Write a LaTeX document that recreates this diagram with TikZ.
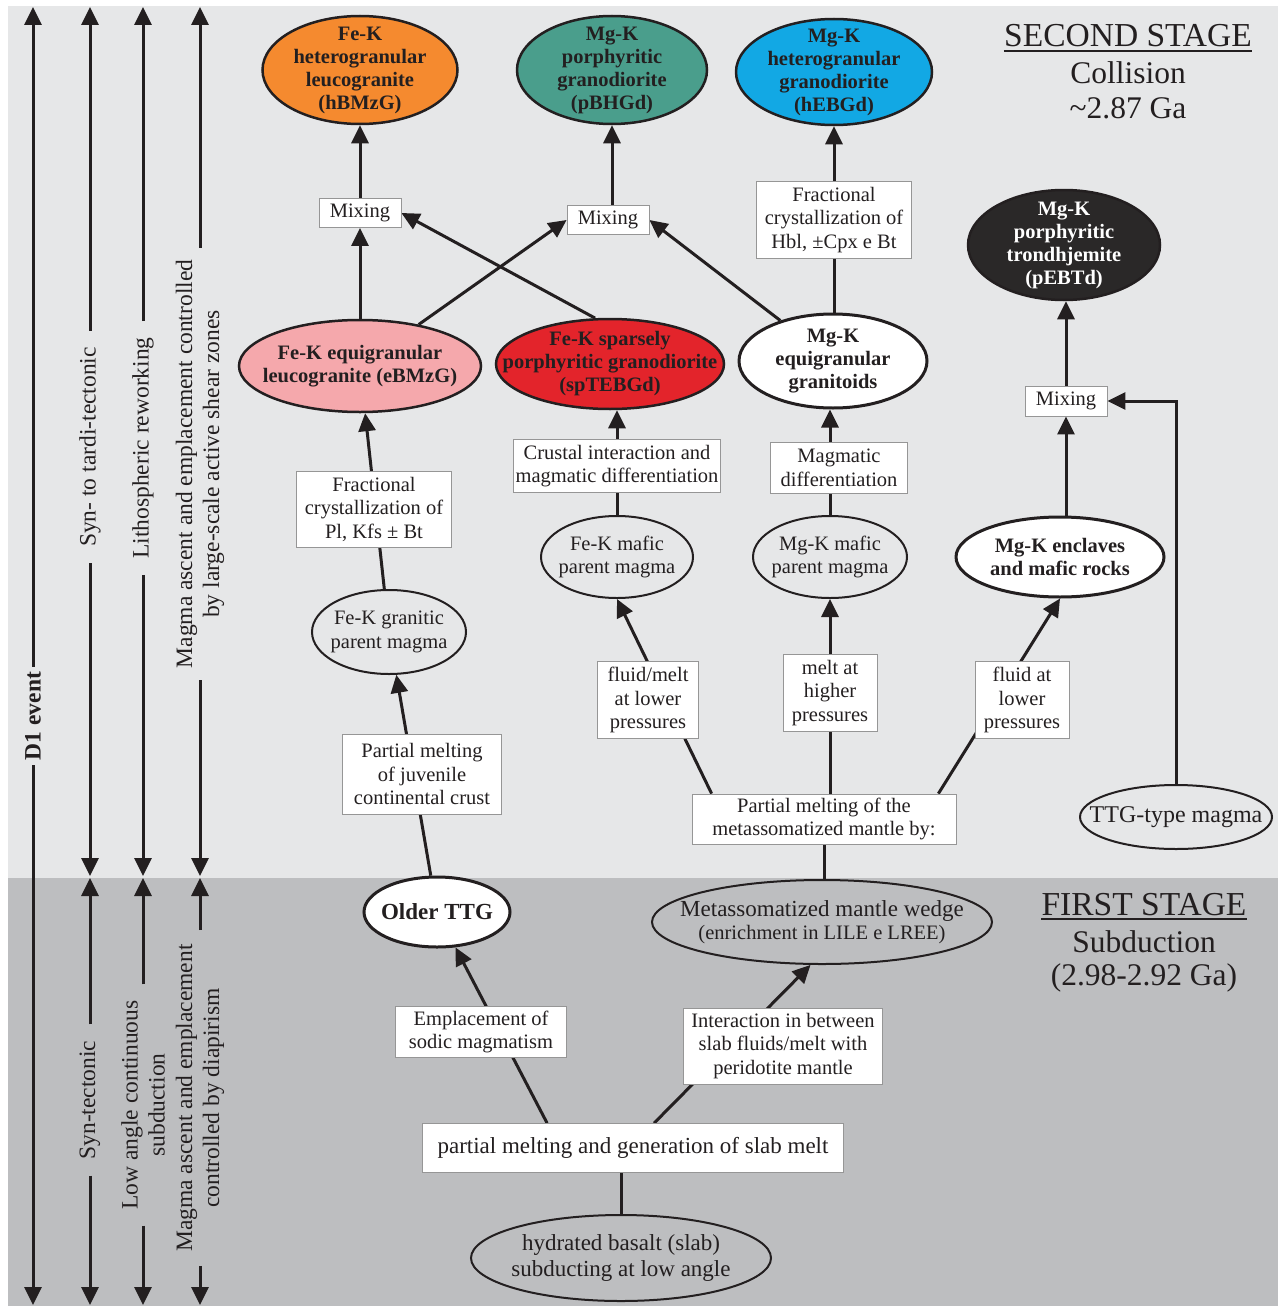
\documentclass[tikz,border=0pt]{standalone}
\usepackage{fontspec}
\setmainfont{Liberation Serif}
\usetikzlibrary{shapes.geometric,arrows.meta,calc}
\pgfdeclarelayer{bglayer}
\pgfdeclarelayer{edgelayer}
\pgfsetlayers{bglayer,edgelayer,main}
\definecolor{bgup}{RGB}{230,231,232}
\definecolor{bglow}{RGB}{189,190,192}
\definecolor{ink}{RGB}{35,31,32}
\definecolor{cOrange}{RGB}{245,138,47}
\definecolor{cTeal}{RGB}{74,158,140}
\definecolor{cBlue}{RGB}{18,168,228}
\definecolor{cPink}{RGB}{245,168,172}
\definecolor{cRed}{RGB}{227,36,43}
\definecolor{cDark}{RGB}{42,40,40}
\definecolor{boxline}{RGB}{150,150,150}
\newcommand{\fsN}{\fontsize{20.5}{23.5}\selectfont}
\newcommand{\fsB}{\bfseries\fontsize{20.5}{23}\selectfont}
\newcommand{\fsL}{\fontsize{23}{26}\selectfont}
\newcommand{\fsS}{\fontsize{23.5}{27}\selectfont}
\begin{document}
\begin{tikzpicture}[x=1pt,y=-1pt,
  txt/.style={font=\fsN, text=ink, align=center},
  bx/.style={txt, draw=boxline, line width=0.8pt, fill=white, inner sep=2pt},
  mixbox/.style={bx, minimum width=82pt, minimum height=29pt},
  pel/.style={ellipse, draw=ink, line width=2pt, inner sep=0pt},
  bel/.style={pel, line width=3pt, fill=white},
  cel/.style={pel, line width=2.5pt},
  et/.style={txt, inner sep=0pt},
  etb/.style={txt, inner sep=0pt, font=\fsB},
  arr/.style={draw=ink, line width=3pt, -{Triangle[length=18pt,width=17pt]}},
  ln/.style={draw=ink, line width=3pt},
  side/.style={font=\fsS, text=ink, align=center, rotate=90, inner xsep=16pt, inner ysep=0pt},
  ttl/.style={text=ink, inner sep=0pt, anchor=base},
]
\useasboundingbox (0,0) rectangle (1278,1306);
\begin{pgfonlayer}{bglayer}
\fill[bgup] (8,6) rectangle (1278,878);
\fill[bglow] (8,878) rectangle (1278,1306);
\end{pgfonlayer}

% ---------- side scales ----------
\node[side, font=\bfseries\fsS, inner xsep=5pt] (d1) at (33,716) {D1 event};
\coordinate (d1top) at (33,7);
\coordinate (d1bot) at (33,1305);
\draw[arr] (d1.east) -- (d1top);
\draw[arr] (d1.west) -- (d1bot);

\node[side] (s2a) at (90,447) {Syn- to tardi-tectonic};
\coordinate (s2top) at (90,7);
\coordinate (s2mida) at (90,876);
\node[side] (s2b) at (90,1100) {Syn-tectonic};
\coordinate (s2midb) at (90,878);
\coordinate (s2bot) at (90,1305);
\draw[arr] (s2a.east) -- (s2top);
\draw[arr] (s2a.west) -- (s2mida);
\draw[arr] (s2b.east) -- (s2midb);
\draw[arr] (s2b.west) -- (s2bot);

\node[side] (s3a) at (143,448) {Lithospheric reworking};
\coordinate (s3top) at (143,7);
\coordinate (s3mida) at (143,876);
\node[side] (s3b) at (143,1105) {Low angle continuous\\subduction};
\coordinate (s3midb) at (143,878);
\coordinate (s3bot) at (143,1305);
\draw[arr] (s3a.east) -- (s3top);
\draw[arr] (s3a.west) -- (s3mida);
\draw[arr] (s3b.east) -- (s3midb);
\draw[arr] (s3b.west) -- (s3bot);

\node[side, inner xsep=12pt] (s4a) at (200,464) {Magma ascent and emplacement controlled\\by large-scale active shear zones};
\coordinate (s4top) at (200,7);
\coordinate (s4mida) at (200,876);
\node[side, inner xsep=14pt] (s4b) at (200,1098) {Magma ascent and emplacement\\controlled by diapirism};
\coordinate (s4midb) at (200,878);
\coordinate (s4bot) at (200,1305);
\draw[arr] (s4a.east) -- (s4top);
\draw[arr] (s4a.west) -- (s4mida);
\draw[arr] (s4b.east) -- (s4midb);
\draw[arr] (s4b.west) -- (s4bot);

% ---------- stage titles ----------
\node[ttl, font=\fontsize{33.5}{36}\selectfont] (sst) at (1128,47) {SECOND STAGE};
\draw[ink, line width=1.8pt] ([yshift=-4pt]sst.base west) -- ([yshift=-4pt]sst.base east);
\node[ttl, font=\fontsize{31.5}{34}\selectfont] (coll) at (1128,83) {Collision};
\node[ttl, font=\fontsize{31.5}{34}\selectfont] (gatwo) at (1128,118) {\textasciitilde2.87 Ga};
\node[ttl, font=\fontsize{33.5}{36}\selectfont] (fst) at (1144,915) {FIRST STAGE};
\draw[ink, line width=1.8pt] ([yshift=-4pt]fst.base west) -- ([yshift=-4pt]fst.base east);
\node[ttl, font=\fontsize{31.5}{34}\selectfont] (subd) at (1144,952) {Subduction};
\node[ttl, font=\fontsize{31.5}{34}\selectfont] (gaone) at (1144,985) {(2.98-2.92 Ga)};

% ---------- top ellipses ----------
\node[cel, fill=cOrange, minimum width=195pt, minimum height=108pt] (hBMzG) at (360,70) {};
\node[etb] (hBMzGt) at (hBMzG) {Fe-K\\heterogranular\\leucogranite\\(hBMzG)};
\node[cel, fill=cTeal, minimum width=190pt, minimum height=108pt] (pBHGd) at (612,70) {};
\node[etb] (pBHGdt) at (pBHGd) {Mg-K\\porphyritic\\granodiorite\\(pBHGd)};
\node[cel, fill=cBlue, minimum width=196pt, minimum height=106pt] (hEBGd) at (834,72) {};
\node[etb] (hEBGdt) at (hEBGd) {Mg-K\\heterogranular\\granodiorite\\(hEBGd)};

% ---------- mixing / process boxes (upper) ----------
\node[mixbox] (mix1) at (360,213) {Mixing};
\node[mixbox] (mix2) at (608,220) {Mixing};
\node[bx, minimum width=155pt, minimum height=77pt] (fracHbl) at (834,220) {Fractional\\crystallization of\\Hbl, ±Cpx e Bt};

% ---------- second row ellipses ----------
\node[cel, fill=cPink, minimum width=242pt, minimum height=92pt] (eBMzG) at (360,366) {};
\node[etb] (eBMzGt) at (eBMzG) {Fe-K equigranular\\leucogranite (eBMzG)};
\node[cel, fill=cRed, minimum width=228pt, minimum height=90pt] (spTEBGd) at (610,364) {};
\node[etb] (spTEBGdt) at (spTEBGd) {Fe-K sparsely\\porphyritic granodiorite\\(spTEBGd)};
\node[bel, minimum width=188pt, minimum height=94pt] (eqMgK) at (833,361) {};
\node[etb] (eqMgKt) at (eqMgK) {Mg-K\\equigranular\\granitoids};
\node[cel, fill=cDark, minimum width=192pt, minimum height=110pt] (pEBTd) at (1064,245) {};
\node[etb, text=white] (pEBTdt) at (pEBTd) {Mg-K\\porphyritic\\trondhjemite\\(pEBTd)};
\node[mixbox, minimum height=30pt] (mix3) at (1066,401) {Mixing};

% ---------- third row ----------
\node[bx, minimum width=155pt, minimum height=76pt] (fracPl) at (374,509) {Fractional\\crystallization of\\Pl, Kfs ± Bt};
\node[bx, minimum width=207pt, minimum height=53pt] (crust) at (617,466) {Crustal interaction and\\magmatic differentiation};
\node[bx, minimum width=137pt, minimum height=51pt] (magdiff) at (839,468) {Magmatic\\differentiation};
\node[pel, minimum width=154pt, minimum height=84pt] (feKgran) at (389,632) {};
\node[et] (feKgrant) at (feKgran) {Fe-K granitic\\parent magma};
\node[pel, minimum width=152pt, minimum height=82pt] (feKmaf) at (617,557) {};
\node[et] (feKmaft) at (feKmaf) {Fe-K mafic\\parent magma};
\node[pel, minimum width=154pt, minimum height=82pt] (mgKmaf) at (830,557) {};
\node[et] (mgKmaft) at (mgKmaf) {Mg-K mafic\\parent magma};
\node[bel, minimum width=208pt, minimum height=80pt] (encl) at (1060,557) {};
\node[etb] (enclt) at (encl) {Mg-K enclaves\\and mafic rocks};

% ---------- fourth row ----------
\node[bx, minimum width=159pt, minimum height=80pt] (pmJuv) at (422,774) {Partial melting\\of juvenile\\continental crust};
\node[bx, minimum width=101pt, minimum height=77pt] (fmone) at (648,700) {fluid/melt\\at lower\\pressures};
\node[bx, minimum width=94pt, minimum height=77pt] (fmtwo) at (830,693) {melt at\\higher\\pressures};
\node[bx, minimum width=94pt, minimum height=77pt] (fmthree) at (1022,700) {fluid at\\lower\\pressures};
\node[bx, minimum width=264pt, minimum height=50pt] (pmMantle) at (824,819) {Partial melting of the\\metassomatized mantle by:};
\node[pel, minimum width=192pt, minimum height=64pt] (ttg) at (1176,817) {};
\node[et, font=\fontsize{24}{27}\selectfont] (ttgt) at (ttg) {TTG-type magma};

% ---------- first stage ----------
\node[bel, minimum width=146pt, minimum height=70pt] (olderTTG) at (437,912) {};
\node[et, font=\bfseries\fontsize{23}{26}\selectfont] (olderTTGt) at (olderTTG) {Older TTG};
\node[pel, minimum width=340pt, minimum height=84pt] (mwedge) at (822,922) {};
\node[et] (mwedget) at (mwedge) {{\fsL Metassomatized mantle wedge}\\(enrichment in LILE e LREE)};
\node[bx, minimum width=171pt, minimum height=51pt] (emplac) at (481,1032) {Emplacement of\\sodic magmatism};
\node[bx, minimum width=199pt, minimum height=76pt] (interact) at (783,1046) {Interaction in between\\slab fluids/melt with\\peridotite mantle};
\node[bx, font=\fsL, minimum width=421pt, minimum height=49pt] (slabmelt) at (633,1148) {partial melting and generation of slab melt};
\node[pel, minimum width=300pt, minimum height=86pt] (basalt) at (621,1258) {};
\node[et, font=\fontsize{23}{26}\selectfont] (basaltt) at (basalt) {hydrated basalt (slab)\\subducting at low angle};

% ---------- connectors ----------
\begin{pgfonlayer}{edgelayer}
\draw[arr] (mix1) -- (hBMzG);
\draw[arr] (pBHGd |- mix2.north) -- (pBHGd.south);
\draw[arr] (fracHbl) -- (hEBGd);
\draw[arr] (eBMzG) -- (mix1);
\draw[arr] (eBMzG) -- (mix2.west);
\draw[arr] (spTEBGd.108) -- (mix1.east);
\draw[arr] (eqMgK) -- (mix2.east);
\draw[ln] (fracHbl.south) -- (fracHbl.south |- eqMgK.north);
\draw[arr] (mix3.north) -- (mix3.north |- pEBTd.south);
\draw[arr] (mix3 |- encl.north) -- (mix3.south);
\draw[arr] (ttg.north) |- (mix3.east);
\draw[arr] (feKgran) -- (eBMzG);
\draw[arr] (feKmaf) -- (feKmaf |- spTEBGd.south);
\draw[arr] (mgKmaf) -- (mgKmaf |- eqMgK.south);
\draw[arr] (olderTTG) -- (feKgran);
\draw[arr] ([xshift=20pt]pmMantle.north west) -- (feKmaf.south);
\draw[arr] (mgKmaf |- pmMantle.north) -- (mgKmaf.south);
\draw[arr] ([xshift=-18pt]pmMantle.north east) -- (encl.south);
\draw[ln] (pmMantle.south) -- (pmMantle.south |- mwedge.north);
\draw[arr] ([xshift=125pt]slabmelt.north west) -- (olderTTG);
\draw[arr] ([xshift=232pt]slabmelt.north west) -- (mwedge.-105);
\draw[ln] (basalt.north) -- (basalt.north |- slabmelt.south);
\end{pgfonlayer}
\end{tikzpicture}
\end{document}
